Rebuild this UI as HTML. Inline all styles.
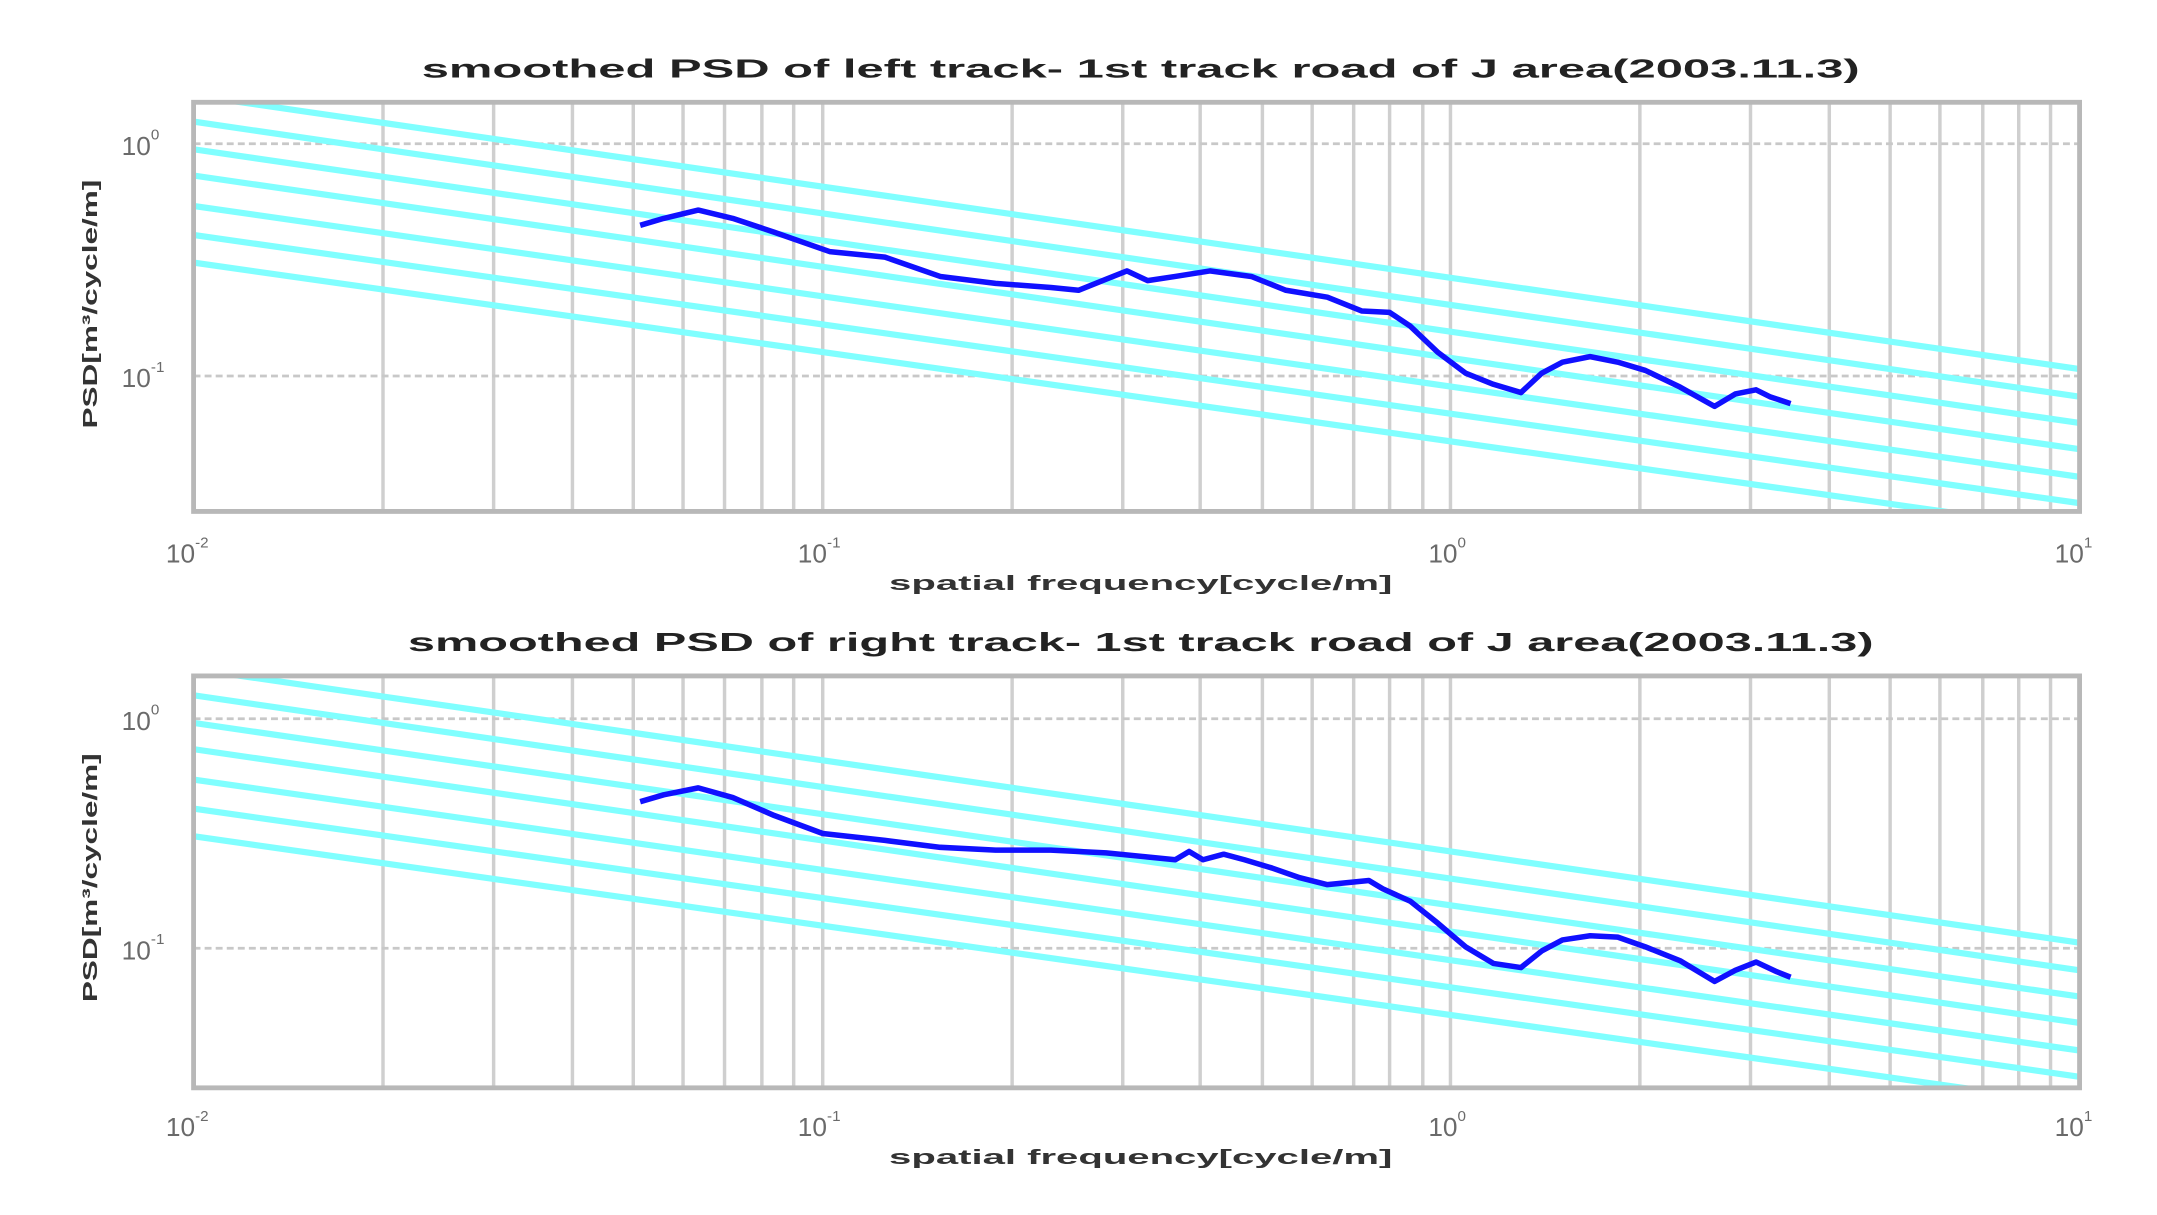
<!DOCTYPE html>
<html><head><meta charset="utf-8"><style>
html,body{margin:0;padding:0;background:#fff;}
svg{display:block;}
text{font-family:"Liberation Sans",sans-serif;}
</style></head><body>
<svg width="2157" height="1215" viewBox="0 0 1560 879" preserveAspectRatio="none" xmlns="http://www.w3.org/2000/svg">
<defs>
<clipPath id="c1"><rect x="140" y="74" width="1364" height="296"/></clipPath>
<clipPath id="c2"><rect x="140" y="489" width="1364" height="298"/></clipPath>
</defs>
<rect width="1560" height="879" fill="#fff"/>

<!-- PLOT 1 -->
<g>
<g stroke="#cfcfcf" stroke-width="2.5">
<line x1="277" y1="74" x2="277" y2="370"/><line x1="357" y1="74" x2="357" y2="370"/><line x1="414" y1="74" x2="414" y2="370"/><line x1="458" y1="74" x2="458" y2="370"/><line x1="494" y1="74" x2="494" y2="370"/><line x1="524" y1="74" x2="524" y2="370"/><line x1="551" y1="74" x2="551" y2="370"/><line x1="574" y1="74" x2="574" y2="370"/>
<line x1="595" y1="74" x2="595" y2="370"/>
<line x1="732" y1="74" x2="732" y2="370"/><line x1="812" y1="74" x2="812" y2="370"/><line x1="868" y1="74" x2="868" y2="370"/><line x1="913" y1="74" x2="913" y2="370"/><line x1="949" y1="74" x2="949" y2="370"/><line x1="979" y1="74" x2="979" y2="370"/><line x1="1005" y1="74" x2="1005" y2="370"/><line x1="1029" y1="74" x2="1029" y2="370"/>
<line x1="1049" y1="74" x2="1049" y2="370"/>
<line x1="1186" y1="74" x2="1186" y2="370"/><line x1="1266" y1="74" x2="1266" y2="370"/><line x1="1323" y1="74" x2="1323" y2="370"/><line x1="1367" y1="74" x2="1367" y2="370"/><line x1="1403" y1="74" x2="1403" y2="370"/><line x1="1434" y1="74" x2="1434" y2="370"/><line x1="1460" y1="74" x2="1460" y2="370"/><line x1="1483" y1="74" x2="1483" y2="370"/>
</g>
<g stroke="#c8c8c8" stroke-width="2" stroke-dasharray="5,3">
<line x1="140" y1="104" x2="1504" y2="104"/><line x1="140" y1="272" x2="1504" y2="272"/>
</g>
<g clip-path="url(#c1)" stroke="#80ffff" stroke-width="4.5">
<line x1="140" y1="69" x2="1504" y2="267"/>
<line x1="140" y1="88" x2="1504" y2="287"/>
<line x1="140" y1="108" x2="1504" y2="306"/>
<line x1="140" y1="127" x2="1504" y2="325"/>
<line x1="140" y1="149" x2="1504" y2="345"/>
<line x1="140" y1="170" x2="1504" y2="364"/>
<line x1="140" y1="190" x2="1504" y2="384"/>
</g>
<polyline fill="none" stroke="#1010ff" stroke-width="4" stroke-linejoin="round" points="463,163 480,158 505,152 530,158 560,168 600,182 640,186 680,200 720,205 760,208 780,210 800,202 815,196 830,203 850,200 875,196 905,200 930,210 960,215 985,225 1005,226 1020,236 1040,255 1060,270 1080,278 1100,284 1115,270 1130,262 1150,258 1170,262 1190,268 1215,280 1240,294 1255,285 1270,282 1280,287 1295,292"/>
<rect x="140" y="74" width="1364" height="296" fill="none" stroke="#b8b8b8" stroke-width="3.5"/>
</g>

<!-- PLOT 2 -->
<g>
<g stroke="#cfcfcf" stroke-width="2.5">
<line x1="277" y1="489" x2="277" y2="787"/><line x1="357" y1="489" x2="357" y2="787"/><line x1="414" y1="489" x2="414" y2="787"/><line x1="458" y1="489" x2="458" y2="787"/><line x1="494" y1="489" x2="494" y2="787"/><line x1="524" y1="489" x2="524" y2="787"/><line x1="551" y1="489" x2="551" y2="787"/><line x1="574" y1="489" x2="574" y2="787"/>
<line x1="595" y1="489" x2="595" y2="787"/>
<line x1="732" y1="489" x2="732" y2="787"/><line x1="812" y1="489" x2="812" y2="787"/><line x1="868" y1="489" x2="868" y2="787"/><line x1="913" y1="489" x2="913" y2="787"/><line x1="949" y1="489" x2="949" y2="787"/><line x1="979" y1="489" x2="979" y2="787"/><line x1="1005" y1="489" x2="1005" y2="787"/><line x1="1029" y1="489" x2="1029" y2="787"/>
<line x1="1049" y1="489" x2="1049" y2="787"/>
<line x1="1186" y1="489" x2="1186" y2="787"/><line x1="1266" y1="489" x2="1266" y2="787"/><line x1="1323" y1="489" x2="1323" y2="787"/><line x1="1367" y1="489" x2="1367" y2="787"/><line x1="1403" y1="489" x2="1403" y2="787"/><line x1="1434" y1="489" x2="1434" y2="787"/><line x1="1460" y1="489" x2="1460" y2="787"/><line x1="1483" y1="489" x2="1483" y2="787"/>
</g>
<g stroke="#c8c8c8" stroke-width="2" stroke-dasharray="5,3">
<line x1="140" y1="520" x2="1504" y2="520"/><line x1="140" y1="686" x2="1504" y2="686"/>
</g>
<g clip-path="url(#c2)" stroke="#80ffff" stroke-width="4.5">
<line x1="140" y1="484" x2="1504" y2="682"/>
<line x1="140" y1="503" x2="1504" y2="702"/>
<line x1="140" y1="523" x2="1504" y2="721"/>
<line x1="140" y1="542" x2="1504" y2="740"/>
<line x1="140" y1="564" x2="1504" y2="760"/>
<line x1="140" y1="585" x2="1504" y2="779"/>
<line x1="140" y1="605" x2="1504" y2="799"/>
</g>
<polyline fill="none" stroke="#1010ff" stroke-width="4" stroke-linejoin="round" points="463,580 480,575 505,570 530,577 560,590 595,603 640,608 680,613 720,615 760,615 800,617 830,620 850,622 860,616 870,622 885,618 900,622 920,628 940,635 960,640 980,638 990,637 1000,643 1020,652 1040,668 1060,685 1080,697 1100,700 1115,688 1130,680 1150,677 1170,678 1190,685 1215,695 1240,710 1255,702 1270,696 1285,703 1295,707"/>
<rect x="140" y="489" width="1364" height="298" fill="none" stroke="#b8b8b8" stroke-width="3.5"/>
</g>

<!-- Titles -->
<g font-weight="bold" fill="#222" font-size="19">
<text x="305" y="56" textLength="1040" lengthAdjust="spacingAndGlyphs">smoothed PSD of left track- 1st track road of J area(2003.11.3)</text>
<text x="295" y="471" textLength="1060" lengthAdjust="spacingAndGlyphs">smoothed PSD of right track- 1st track road of J area(2003.11.3)</text>
</g>
<g font-weight="bold" fill="#333" font-size="15">
<text x="643" y="427" textLength="364" lengthAdjust="spacingAndGlyphs">spatial frequency[cycle/m]</text>
<text x="643" y="842" textLength="364" lengthAdjust="spacingAndGlyphs">spatial frequency[cycle/m]</text>
<text transform="translate(70,310) rotate(-90)" textLength="180" lengthAdjust="spacingAndGlyphs">PSD[m³/cycle/m]</text>
<text transform="translate(70,725) rotate(-90)" textLength="180" lengthAdjust="spacingAndGlyphs">PSD[m³/cycle/m]</text>
</g>
<!-- tick labels -->
<g fill="#6a6a6a" font-size="19">
<text x="120" y="407">10<tspan font-size="11" dy="-11">-2</tspan></text>
<text x="577" y="407">10<tspan font-size="11" dy="-11">-1</tspan></text>
<text x="1033" y="407">10<tspan font-size="11" dy="-11">0</tspan></text>
<text x="1486" y="407">10<tspan font-size="11" dy="-11">1</tspan></text>
<text x="88" y="112">10<tspan font-size="11" dy="-11">0</tspan></text>
<text x="88" y="280">10<tspan font-size="11" dy="-11">-1</tspan></text>
<text x="120" y="822">10<tspan font-size="11" dy="-11">-2</tspan></text>
<text x="577" y="822">10<tspan font-size="11" dy="-11">-1</tspan></text>
<text x="1033" y="822">10<tspan font-size="11" dy="-11">0</tspan></text>
<text x="1486" y="822">10<tspan font-size="11" dy="-11">1</tspan></text>
<text x="88" y="528">10<tspan font-size="11" dy="-11">0</tspan></text>
<text x="88" y="694">10<tspan font-size="11" dy="-11">-1</tspan></text>
</g>
</svg>
</body></html>
